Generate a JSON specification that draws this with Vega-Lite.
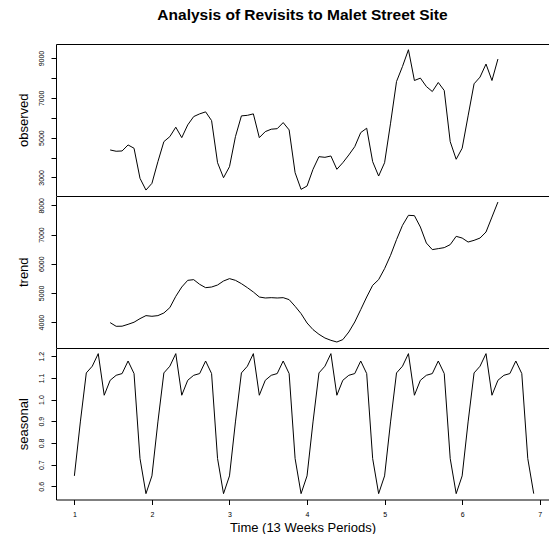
{
  "$schema": "https://vega.github.io/schema/vega-lite/v6.json",
  "padding": {"left": 17, "top": 7, "right": 0, "bottom": 0},
  "spacing": 0,
  "config": {
    "view": {"stroke": null},
    "font": "Liberation Sans",
    "axis": {"grid": false, "domainColor": "black", "tickColor": "black", "labelColor": "black", "titleColor": "black", "labelFont": "Liberation Sans", "titleFont": "Liberation Sans", "labelFontSize": 7, "titleFontSize": 13, "titleFontWeight": "normal", "tickSize": 5, "domainWidth": 1, "tickWidth": 1, "labelOverlap": false, "labelFlush": false}
  },
  "data": {"values": [
    {"t": 1.0000, "seasonal": 0.648, "observed": null, "trend": null},
    {"t": 1.0769, "seasonal": 0.897, "observed": null, "trend": null},
    {"t": 1.1538, "seasonal": 1.123, "observed": null, "trend": null},
    {"t": 1.2308, "seasonal": 1.154, "observed": null, "trend": null},
    {"t": 1.3077, "seasonal": 1.212, "observed": null, "trend": null},
    {"t": 1.3846, "seasonal": 1.020, "observed": null, "trend": null},
    {"t": 1.4615, "seasonal": 1.089, "observed": 4380, "trend": 3982},
    {"t": 1.5385, "seasonal": 1.112, "observed": 4315, "trend": 3856},
    {"t": 1.6154, "seasonal": 1.120, "observed": 4330, "trend": 3860},
    {"t": 1.6923, "seasonal": 1.178, "observed": 4632, "trend": 3924},
    {"t": 1.7692, "seasonal": 1.120, "observed": 4466, "trend": 3996},
    {"t": 1.8462, "seasonal": 0.728, "observed": 2954, "trend": 4119},
    {"t": 1.9231, "seasonal": 0.566, "observed": 2365, "trend": 4222},
    {"t": 2.0000, "seasonal": 0.648, "observed": 2702, "trend": 4199},
    {"t": 2.0769, "seasonal": 0.897, "observed": 3791, "trend": 4222},
    {"t": 2.1538, "seasonal": 1.123, "observed": 4798, "trend": 4312},
    {"t": 2.2308, "seasonal": 1.154, "observed": 5050, "trend": 4496},
    {"t": 2.3077, "seasonal": 1.212, "observed": 5524, "trend": 4883},
    {"t": 2.3846, "seasonal": 1.020, "observed": 5000, "trend": 5202},
    {"t": 2.4615, "seasonal": 1.089, "observed": 5640, "trend": 5431},
    {"t": 2.5385, "seasonal": 1.112, "observed": 6058, "trend": 5454},
    {"t": 2.6154, "seasonal": 1.120, "observed": 6194, "trend": 5294},
    {"t": 2.6923, "seasonal": 1.178, "observed": 6295, "trend": 5180},
    {"t": 2.7692, "seasonal": 1.120, "observed": 5856, "trend": 5202},
    {"t": 2.8462, "seasonal": 0.728, "observed": 3740, "trend": 5271},
    {"t": 2.9231, "seasonal": 0.566, "observed": 2985, "trend": 5408},
    {"t": 3.0000, "seasonal": 0.648, "observed": 3539, "trend": 5489},
    {"t": 3.0769, "seasonal": 0.897, "observed": 5050, "trend": 5431},
    {"t": 3.1538, "seasonal": 1.123, "observed": 6093, "trend": 5317},
    {"t": 3.2308, "seasonal": 1.154, "observed": 6120, "trend": 5180},
    {"t": 3.3077, "seasonal": 1.212, "observed": 6194, "trend": 5031},
    {"t": 3.3846, "seasonal": 1.020, "observed": 5000, "trend": 4860},
    {"t": 3.4615, "seasonal": 1.089, "observed": 5302, "trend": 4826},
    {"t": 3.5385, "seasonal": 1.112, "observed": 5423, "trend": 4837},
    {"t": 3.6154, "seasonal": 1.120, "observed": 5450, "trend": 4826},
    {"t": 3.6923, "seasonal": 1.178, "observed": 5756, "trend": 4837},
    {"t": 3.7692, "seasonal": 1.120, "observed": 5388, "trend": 4770},
    {"t": 3.8462, "seasonal": 0.728, "observed": 3237, "trend": 4541},
    {"t": 3.9231, "seasonal": 0.566, "observed": 2400, "trend": 4291},
    {"t": 4.0000, "seasonal": 0.648, "observed": 2567, "trend": 3970},
    {"t": 4.0769, "seasonal": 0.897, "observed": 3408, "trend": 3743},
    {"t": 4.1538, "seasonal": 1.123, "observed": 4043, "trend": 3582},
    {"t": 4.2308, "seasonal": 1.154, "observed": 4010, "trend": 3455},
    {"t": 4.3077, "seasonal": 1.212, "observed": 4077, "trend": 3376},
    {"t": 4.3846, "seasonal": 1.020, "observed": 3408, "trend": 3318},
    {"t": 4.4615, "seasonal": 1.089, "observed": 3740, "trend": 3400},
    {"t": 4.5385, "seasonal": 1.112, "observed": 4128, "trend": 3661},
    {"t": 4.6154, "seasonal": 1.120, "observed": 4547, "trend": 4004},
    {"t": 4.6923, "seasonal": 1.178, "observed": 5252, "trend": 4428},
    {"t": 4.7692, "seasonal": 1.120, "observed": 5473, "trend": 4860},
    {"t": 4.8462, "seasonal": 0.728, "observed": 3791, "trend": 5260},
    {"t": 4.9231, "seasonal": 0.566, "observed": 3070, "trend": 5455},
    {"t": 5.0000, "seasonal": 0.648, "observed": 3740, "trend": 5832},
    {"t": 5.0769, "seasonal": 0.897, "observed": 5725, "trend": 6288},
    {"t": 5.1538, "seasonal": 1.123, "observed": 7821, "trend": 6825},
    {"t": 5.2308, "seasonal": 1.154, "observed": 8577, "trend": 7315},
    {"t": 5.3077, "seasonal": 1.212, "observed": 9418, "trend": 7658},
    {"t": 5.3846, "seasonal": 1.020, "observed": 7871, "trend": 7647},
    {"t": 5.4615, "seasonal": 1.089, "observed": 7992, "trend": 7257},
    {"t": 5.5385, "seasonal": 1.112, "observed": 7569, "trend": 6709},
    {"t": 5.6154, "seasonal": 1.120, "observed": 7317, "trend": 6483},
    {"t": 5.6923, "seasonal": 1.178, "observed": 7771, "trend": 6517},
    {"t": 5.7692, "seasonal": 1.120, "observed": 7368, "trend": 6551},
    {"t": 5.8462, "seasonal": 0.728, "observed": 4798, "trend": 6654},
    {"t": 5.9231, "seasonal": 0.566, "observed": 3912, "trend": 6938},
    {"t": 6.0000, "seasonal": 0.648, "observed": 4466, "trend": 6880},
    {"t": 6.0769, "seasonal": 0.897, "observed": 6093, "trend": 6743},
    {"t": 6.1538, "seasonal": 1.123, "observed": 7705, "trend": 6801},
    {"t": 6.2308, "seasonal": 1.154, "observed": 8043, "trend": 6880},
    {"t": 6.3077, "seasonal": 1.212, "observed": 8698, "trend": 7086},
    {"t": 6.3846, "seasonal": 1.020, "observed": 7871, "trend": 7599},
    {"t": 6.4615, "seasonal": 1.089, "observed": 8950, "trend": 8113},
    {"t": 6.5385, "seasonal": 1.112, "observed": null, "trend": null},
    {"t": 6.6154, "seasonal": 1.120, "observed": null, "trend": null},
    {"t": 6.6923, "seasonal": 1.178, "observed": null, "trend": null},
    {"t": 6.7692, "seasonal": 1.120, "observed": null, "trend": null},
    {"t": 6.8462, "seasonal": 0.728, "observed": null, "trend": null},
    {"t": 6.9231, "seasonal": 0.566, "observed": null, "trend": null}
  ]},
  "vconcat": [
    {
      "width": 493,
      "height": 151.5,
      "title": {"text": "Analysis of Revisits to Malet Street Site", "fontSize": 15.5, "fontWeight": "bold", "font": "Liberation Sans", "color": "black", "anchor": "middle", "frame": "group", "baseline": "alphabetic", "offset": 9},
      "mark": {"type": "line", "color": "black", "strokeWidth": 1},
      "encoding": {
        "x": {"field": "t", "type": "quantitative", "scale": {"domain": [0.763, 7.12], "nice": false, "zero": false},
              "axis": {"orient": "top", "ticks": false, "labels": false, "title": null, "domain": true, "minExtent": 0, "maxExtent": 0}},
        "y": {"field": "observed", "type": "quantitative", "scale": {"domain": [2091, 9706], "nice": false, "zero": false},
              "axis": {"title": "observed", "values": [3000, 4000, 5000, 6000, 7000, 8000, 9000], "labelExpr": "datum.value % 2000 == 1000 ? datum.label : ''", "format": "d", "labelAngle": 270, "labelAlign": "center", "labelBaseline": "bottom", "labelPadding": 7, "minExtent": 18, "maxExtent": 18, "titlePadding": 8}}
      }
    },
    {
      "width": 493,
      "height": 151.5,
      "mark": {"type": "line", "color": "black", "strokeWidth": 1},
      "encoding": {
        "x": {"field": "t", "type": "quantitative", "scale": {"domain": [0.763, 7.12], "nice": false, "zero": false},
              "axis": {"orient": "top", "ticks": false, "labels": false, "title": null, "domain": true, "minExtent": 0, "maxExtent": 0}},
        "y": {"field": "trend", "type": "quantitative", "scale": {"domain": [3130, 8320], "nice": false, "zero": false},
              "axis": {"title": "trend", "values": [4000, 5000, 6000, 7000, 8000], "format": "d", "labelAngle": 270, "labelAlign": "center", "labelBaseline": "bottom", "labelPadding": 7, "minExtent": 18, "maxExtent": 18, "titlePadding": 8}}
      }
    },
    {
      "width": 493,
      "height": 151.5,
      "resolve": {"axis": {"x": "independent"}},
      "encoding": {
        "y": {"field": "seasonal", "type": "quantitative", "scale": {"domain": [0.539, 1.238], "nice": false, "zero": false},
              "axis": {"title": "seasonal", "values": [0.6, 0.7, 0.8, 0.9, 1.0, 1.1, 1.2], "format": ".1f", "labelAngle": 270, "labelAlign": "center", "labelBaseline": "bottom", "labelPadding": 7, "minExtent": 18, "maxExtent": 18, "titlePadding": 8}}
      },
      "layer": [
        {
          "mark": {"type": "line", "color": "black", "strokeWidth": 1},
          "encoding": {
            "x": {"field": "t", "type": "quantitative", "scale": {"domain": [0.763, 7.12], "nice": false, "zero": false},
                  "axis": {"orient": "top", "ticks": false, "labels": false, "title": null, "domain": true, "minExtent": 0, "maxExtent": 0}}
          }
        },
        {
          "mark": {"type": "line", "color": "black", "strokeWidth": 1, "opacity": 0},
          "encoding": {
            "x": {"field": "t", "type": "quantitative", "scale": {"domain": [0.763, 7.12], "nice": false, "zero": false},
                  "axis": {"orient": "bottom", "title": "Time (13 Weeks Periods)", "values": [1, 2, 3, 4, 5, 6, 7], "format": "d", "labelPadding": 5.5, "titlePadding": 4, "labelAngle": 0}}
          }
        }
      ]
    }
  ]
}
